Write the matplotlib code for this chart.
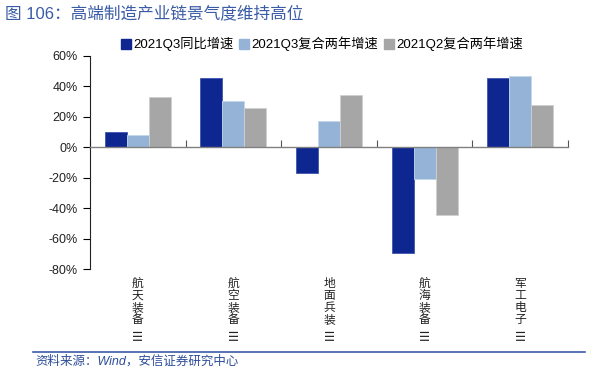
import numpy as np
import matplotlib.pyplot as plt
from matplotlib.lines import Line2D

plt.rcParams['font.family'] = ['Liberation Sans', 'Noto Sans CJK SC', 'DejaVu Sans']

categories = ["航天装备Ⅲ", "航空装备Ⅲ", "地面兵装Ⅲ", "航海装备Ⅲ", "军工电子Ⅲ"]
q3_yoy = [10.0, 45.7, -16.8, -69.2, 45.7]
q3_two_year = [7.9, 30.2, 17.3, -21.0, 47.0]
q2_two_year = [33.2, 26.0, 34.5, -44.3, 27.8]
series_names = ["2021Q3同比增速", "2021Q3复合两年增速", "2021Q2复合两年增速"]
colors = ["#0E2690", "#95B3D7", "#A6A6A6"]
edge_colors = ["#3F55B0", "#C5D6EC", "#CFCFCF"]

fig = plt.figure(figsize=(6.02, 3.70), dpi=100)
ax = fig.add_axes([0.1495, 0.272, 0.794, 0.5775])

x = np.arange(len(categories))
w = 0.23
for i, vals in enumerate([q3_yoy, q3_two_year, q2_two_year]):
    ax.bar(x + (i - 1) * w, vals, w, color=colors[i], edgecolor=edge_colors[i],
           linewidth=0.6, label=series_names[i], zorder=2)

ax.set_xlim(-0.5, len(categories) - 0.5)
ax.set_ylim(-80, 60)
ax.set_yticks(range(-80, 61, 20))
ax.set_yticklabels([f"{v}%" for v in range(-80, 61, 20)], fontsize=9, color="#222222")
ax.tick_params(axis='y', direction='out', length=5, width=0.8, pad=4)

for s in ['top', 'right']:
    ax.spines[s].set_visible(False)
ax.spines['left'].set_color('#222222')
ax.spines['left'].set_linewidth(0.8)
ax.spines['bottom'].set_position(('data', 0))
ax.spines['bottom'].set_color('#808080')
ax.spines['bottom'].set_linewidth(1.0)
ax.spines['bottom'].set_zorder(3)

ax.set_xticks(np.arange(len(categories) + 1) - 0.5)
ax.set_xticklabels([])
ax.tick_params(axis='x', direction='in', length=5, width=0.8, color='#555555')

# vertical category labels under the plot, one character per line
step = 8.7
for xi, name in zip(x, categories):
    for k, ch in enumerate(name):
        roman = ch == "Ⅲ"
        ax.annotate(ch, xy=(xi, 0), xycoords=('data', 'axes fraction'),
                    xytext=(0, -5.5 - k * step - (1 if roman else 0)),
                    textcoords='offset points', ha='center', va='top',
                    fontsize=9.5 if roman else 8.5, rotation=90 if roman else 0,
                    color="#222222", family='Noto Sans CJK SC')

handles = [plt.Rectangle((0, 0), 1, 1, color=c) for c in colors]
fig.legend(handles, series_names, loc='center', bbox_to_anchor=(0.535, 0.881),
           ncol=3, frameon=False, fontsize=9.5, handlelength=0.75, handleheight=0.75,
           handletextpad=0.2, columnspacing=0.4, borderaxespad=0)

fig.text(0.008, 0.985, "图 106：高端制造产业链景气度维持高位", fontsize=12,
         color="#3A5BA6", ha='left', va='top')

fig.add_artist(Line2D([0.055, 0.971], [0.049, 0.049], color="#3A5BA6", linewidth=1.2))
fig.text(0.058, 0.024, "资料来源：Wind，安信证券研究中心", fontsize=9, color="#2E4E9A",
         style='italic', ha='left', va='center')

fig.savefig("out.png", dpi=100)
